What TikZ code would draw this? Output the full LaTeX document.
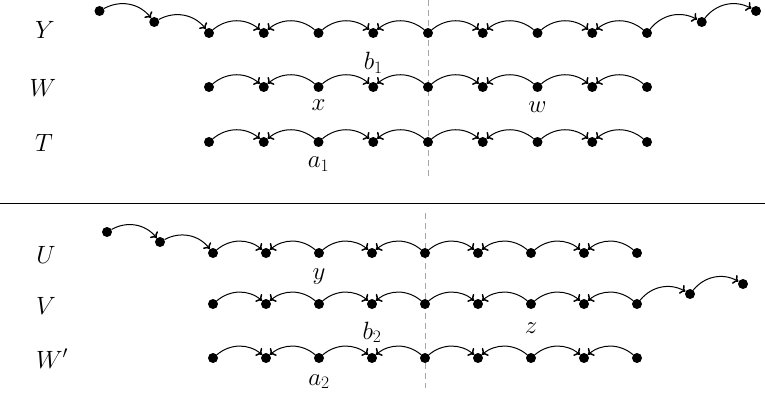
\RequirePackage{fix-cm}
\documentclass[tikz,border=0pt]{standalone}
\usetikzlibrary{arrows.meta}
\begin{document}
\begin{tikzpicture}[x=1pt,y=1pt,
  dot/.style={circle,fill=black,inner sep=0pt,minimum size=10pt},
  arc/.style={line width=1pt,-{To[length=5pt,width=10pt,line width=1.5pt]}},
  lab/.style={font=\fontsize{25}{29}\selectfont,anchor=base,inner sep=0pt},
  sepdash/.style={gray!70,line width=0.9pt,dash pattern=on 6pt off 4pt},
  rule/.style={black,line width=0.9pt}]
\useasboundingbox (0,0) rectangle (765,394);
% separators
\coordinate (dt1) at (428,394);
\coordinate (dt2) at (428,216);
\coordinate (db1) at (425,181);
\coordinate (db2) at (425,6);
\coordinate (h1) at (0,191);
\coordinate (h2) at (765,191);
\draw[sepdash] (dt1) -- (dt2);
\draw[sepdash] (db1) -- (db2);
\draw[rule] (h1) -- (h2);
% rows of vertices
\foreach \i in {0,...,8} {
  \node[dot] (Y\i) at ({209+54.75*\i},361) {};
  \node[dot] (W\i) at ({209+54.75*\i},307) {};
  \node[dot] (T\i) at ({209+54.75*\i},252) {};
  \node[dot] (U\i) at ({213+53*\i},141) {};
  \node[dot] (V\i) at ({213+53*\i},90) {};
  \node[dot] (P\i) at ({213+53*\i},36) {};
}
\node[dot] (YL1) at (154.25,372) {};
\node[dot] (YL2) at (99.5,383) {};
\node[dot] (YR1) at (701.75,372) {};
\node[dot] (YR2) at (756,383) {};
\node[dot] (UL1) at (160,152) {};
\node[dot] (UL2) at (107,162) {};
\node[dot] (VR1) at (690,100) {};
\node[dot] (VR2) at (743,110) {};
% edges
\foreach \r in {Y,W,T,U,V,P} {
  \foreach \a/\b in {0/1,2/3,4/5,6/7}
    \draw[arc] (\r\a) to[bend left=40] (\r\b);
  \foreach \a/\b in {2/1,4/3,6/5,8/7}
    \draw[arc] (\r\a) to[bend right=40] (\r\b);
}
\draw[arc] (YL2) to[bend left=40] (YL1);
\draw[arc] (YL1) to[bend left=40] (Y0);
\draw[arc] (Y8) to[bend left=40] (YR1);
\draw[arc] (YR1) to[bend left=40] (YR2);
\draw[arc] (UL2) to[bend left=40] (UL1);
\draw[arc] (UL1) to[bend left=40] (U0);
\draw[arc] (V8) to[bend left=40] (VR1);
\draw[arc] (VR1) to[bend left=40] (VR2);
% row labels
\node[lab] (lY) at (45,355) {$Y$};
\node[lab] (lW) at (43,297) {$W$};
\node[lab] (lT) at (44,242) {$T$};
\node[lab] (lU) at (46,131) {$U$};
\node[lab] (lV) at (46,80) {$V$};
\node[lab] (lP) at (52,26) {$W'$};
% vertex labels
\node[lab] (b1) at ([yshift=-37pt]Y3) {$b_1$};
\node[lab] (x) at ([yshift=-24pt]W2) {$x$};
\node[lab] (w) at ([yshift=-26pt]W6) {$w$};
\node[lab] (a1) at ([yshift=-26pt]T2) {$a_1$};
\node[lab] (y) at ([yshift=-26pt]U2) {$y$};
\node[lab] (b2) at ([yshift=-35pt]V3) {$b_2$};
\node[lab] (z) at ([yshift=-29pt]V6) {$z$};
\node[lab] (a2) at ([yshift=-27pt]P2) {$a_2$};
\end{tikzpicture}
\end{document}
